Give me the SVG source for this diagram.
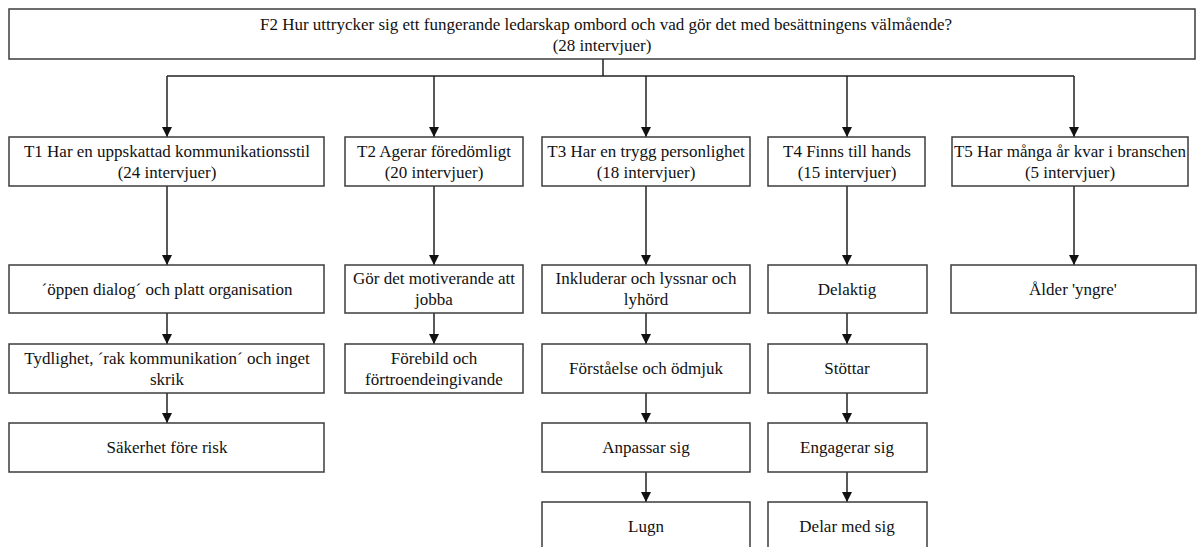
<svg xmlns="http://www.w3.org/2000/svg" width="1200" height="547" viewBox="0 0 1200 547">
<style>
.box{fill:#fff;stroke:#3c3c3c;stroke-width:1.5}
.t{font-family:"Liberation Serif","Times New Roman","DejaVu Serif",serif;font-size:17px;fill:#111;text-anchor:middle}
.c{fill:none;stroke:#222;stroke-width:1.5}
</style>
<defs>
<marker id="ah" markerUnits="userSpaceOnUse" markerWidth="10" markerHeight="10" refX="10" refY="5" orient="auto">
<path d="M0,0 L10,5 L0,10 z" fill="#111"/>
</marker>
</defs>
<rect width="1200" height="547" fill="#fff"/>
<g id="connectors">
<path class="c" d="M603,59 V76 M167,76 H1074"/>
<path class="c" marker-end="url(#ah)" d="M167,76 V137"/>
<path class="c" marker-end="url(#ah)" d="M434,76 V137"/>
<path class="c" marker-end="url(#ah)" d="M646,76 V137"/>
<path class="c" marker-end="url(#ah)" d="M847,76 V137"/>
<path class="c" marker-end="url(#ah)" d="M1074,76 V137"/>
<path class="c" marker-end="url(#ah)" d="M167,186 V265"/>
<path class="c" marker-end="url(#ah)" d="M434,186 V265"/>
<path class="c" marker-end="url(#ah)" d="M646,186 V265"/>
<path class="c" marker-end="url(#ah)" d="M847,186 V265"/>
<path class="c" marker-end="url(#ah)" d="M1074,186 V265"/>
<path class="c" marker-end="url(#ah)" d="M167,313 V344"/>
<path class="c" marker-end="url(#ah)" d="M434,313 V344"/>
<path class="c" marker-end="url(#ah)" d="M646,313 V344"/>
<path class="c" marker-end="url(#ah)" d="M847,313 V344"/>
<path class="c" marker-end="url(#ah)" d="M167,393 V423"/>
<path class="c" marker-end="url(#ah)" d="M646,393 V423"/>
<path class="c" marker-end="url(#ah)" d="M847,393 V423"/>
<path class="c" marker-end="url(#ah)" d="M646,472 V502"/>
<path class="c" marker-end="url(#ah)" d="M847,472 V502"/>
</g>
<g id="F2"><rect class="box" x="9" y="9" width="1186" height="50"/>
<text class="t" x="606" y="30">F2 Hur uttrycker sig ett fungerande ledarskap ombord och vad gör det med besättningens välmående?</text>
<text class="t" x="602" y="51">(28 intervjuer)</text></g>
<g id="T1"><rect class="box" x="9" y="137" width="315" height="49"/>
<text class="t" x="167" y="157">T1 Har en uppskattad kommunikationsstil</text>
<text class="t" x="167" y="178">(24 intervjuer)</text></g>
<g id="T2"><rect class="box" x="345" y="137" width="178" height="49"/>
<text class="t" x="434" y="157">T2 Agerar föredömligt</text>
<text class="t" x="434" y="178">(20 intervjuer)</text></g>
<g id="T3"><rect class="box" x="542" y="137" width="208" height="49"/>
<text class="t" x="646" y="157">T3 Har en trygg personlighet</text>
<text class="t" x="646" y="178">(18 intervjuer)</text></g>
<g id="T4"><rect class="box" x="768" y="137" width="157" height="49"/>
<text class="t" x="847" y="157">T4 Finns till hands</text>
<text class="t" x="847" y="178">(15 intervjuer)</text></g>
<g id="T5"><rect class="box" x="952" y="137" width="236" height="49"/>
<text class="t" x="1070" y="157">T5 Har många år kvar i branschen</text>
<text class="t" x="1070" y="178">(5 intervjuer)</text></g>
<g id="T1a"><rect class="box" x="9" y="265" width="315" height="48"/>
<text class="t" x="167" y="295">´öppen dialog´ och platt organisation</text></g>
<g id="T1b"><rect class="box" x="9" y="344" width="315" height="49"/>
<text class="t" x="167" y="364">Tydlighet, ´rak kommunikation´ och inget</text>
<text class="t" x="167" y="385">skrik</text></g>
<g id="T1c"><rect class="box" x="9" y="423" width="315" height="49"/>
<text class="t" x="167" y="453">Säkerhet före risk</text></g>
<g id="T2a"><rect class="box" x="345" y="265" width="178" height="48"/>
<text class="t" x="434" y="284">Gör det motiverande att</text>
<text class="t" x="434" y="305">jobba</text></g>
<g id="T2b"><rect class="box" x="345" y="344" width="178" height="49"/>
<text class="t" x="434" y="364">Förebild och</text>
<text class="t" x="434" y="385">förtroendeingivande</text></g>
<g id="T3a"><rect class="box" x="542" y="265" width="208" height="48"/>
<text class="t" x="646" y="284">Inkluderar och lyssnar och</text>
<text class="t" x="646" y="305">lyhörd</text></g>
<g id="T3b"><rect class="box" x="542" y="344" width="208" height="49"/>
<text class="t" x="646" y="374">Förståelse och ödmjuk</text></g>
<g id="T3c"><rect class="box" x="542" y="423" width="208" height="49"/>
<text class="t" x="646" y="453">Anpassar sig</text></g>
<g id="T3d"><rect class="box" x="542" y="502" width="208" height="60"/>
<text class="t" x="646" y="532">Lugn</text></g>
<g id="T4a"><rect class="box" x="768" y="265" width="159" height="48"/>
<text class="t" x="847" y="295">Delaktig</text></g>
<g id="T4b"><rect class="box" x="768" y="344" width="159" height="49"/>
<text class="t" x="847" y="374">Stöttar</text></g>
<g id="T4c"><rect class="box" x="768" y="423" width="159" height="49"/>
<text class="t" x="847" y="453">Engagerar sig</text></g>
<g id="T4d"><rect class="box" x="768" y="502" width="159" height="60"/>
<text class="t" x="847" y="532">Delar med sig</text></g>
<g id="T5a"><rect class="box" x="951" y="265" width="245" height="48"/>
<text class="t" x="1073" y="295">Ålder 'yngre'</text></g>
</svg>
